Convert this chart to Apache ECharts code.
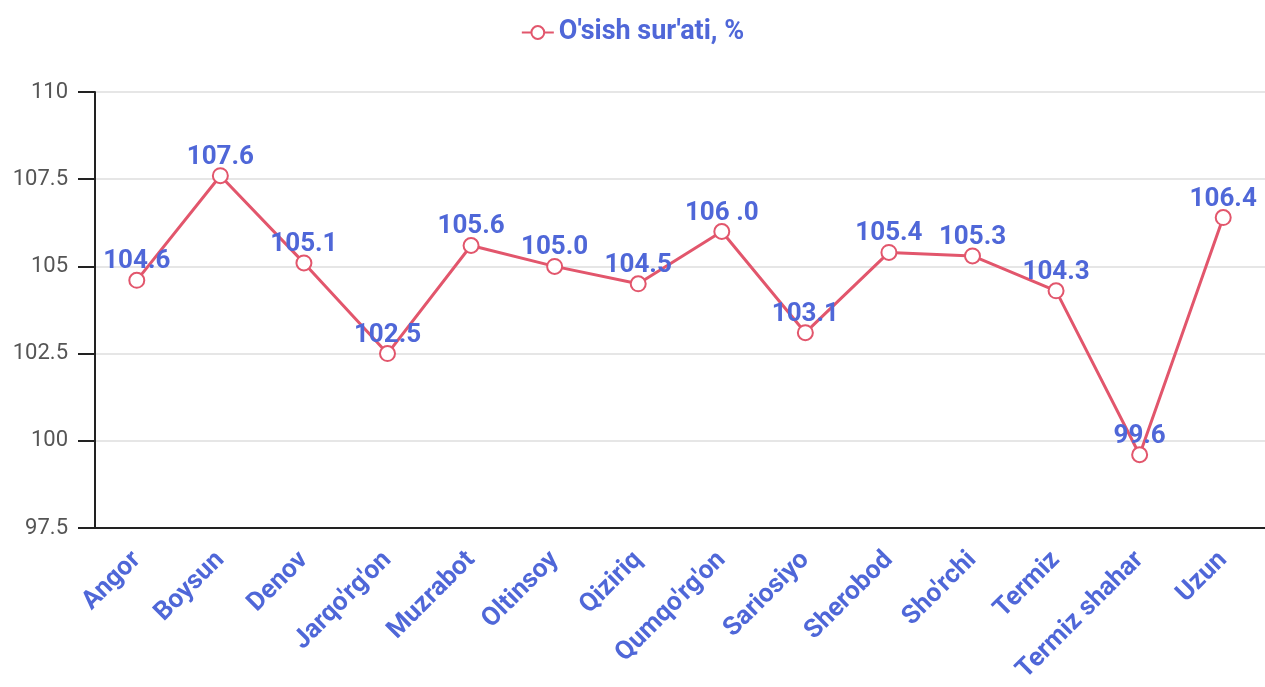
<!DOCTYPE html>
<html>
<head>
<meta charset="utf-8">
<script src="https://cdn.jsdelivr.net/npm/echarts@6/dist/echarts.min.js"></script>
<style>
  html, body { margin: 0; padding: 0; background: #fff; }
  #chart { width: 1265px; height: 687px; }
</style>
</head>
<body>
<div id="chart"></div>
<script>
    // tumanlar
    var categories = ['Angor', 'Boysun', 'Denov', "Jarqo'rg'on", 'Muzrabot', 'Oltinsoy', 'Qiziriq',
        "Qumqo'rg'on", 'Sariosiyo', 'Sherobod', "Sho'rchi", 'Termiz', 'Termiz shahar', 'Uzun'];
    var growthValues = [104.6, 107.6, 105.1, 102.5, 105.6, 105.0, 104.5, 106.0, 103.1, 105.4, 105.3, 104.3, 99.6, 106.4];
    var growthLabels = ['104.6', '107.6', '105.1', '102.5', '105.6', '105.0', '104.5', '106 .0', '103.1', '105.4', '105.3', '104.3', '99.6', '106.4'];
    var yTicks = [97.5, 100, 102.5, 105, 107.5, 110];

    var blue = '#4f67d8';
    var red = '#e2566c';
    var font = 'Roboto';

    var chart = echarts.init(document.getElementById('chart'));
    chart.setOption({
        animation: false,
        legend: {
            top: 14,
            left: 'center',
            itemWidth: 32,
            itemHeight: 16,
            itemGap: 10,
            textStyle: { color: blue, fontSize: 27, fontWeight: 'bold', fontFamily: font },
            data: ["O'sish sur'ati, %"]
        },
        grid: { left: 95, top: 92, width: 1174, height: 436 },
        xAxis: {
            type: 'category',
            data: categories,
            axisLine: { lineStyle: { color: '#222', width: 2 } },
            axisTick: { alignWithLabel: true, length: 17, lineStyle: { color: '#222', width: 2 } },
            axisLabel: {
                rotate: 45,
                interval: 0,
                margin: 28,
                color: blue,
                fontSize: 26,
                fontWeight: 'bold',
                fontFamily: font
            }
        },
        yAxis: {
            type: 'value',
            min: yTicks[0],
            max: yTicks[yTicks.length - 1],
            interval: 2.5,
            axisLine: { show: true, lineStyle: { color: '#222', width: 2 } },
            axisTick: { show: true, length: 17, lineStyle: { color: '#222', width: 2 } },
            axisLabel: { color: '#555', fontSize: 22, fontFamily: font, margin: 27 },
            splitLine: { lineStyle: { color: '#e6e6e6', width: 2 } }
        },
        series: [{
            name: "O'sish sur'ati, %",
            type: 'line',
            data: growthValues,
            symbol: 'emptyCircle',
            symbolSize: 15,
            itemStyle: { color: red, borderWidth: 3 },
            lineStyle: { color: red, width: 3 },
            label: {
                show: true,
                position: 'top',
                distance: -3,
                color: blue,
                fontSize: 26,
                fontWeight: 'bold',
                fontFamily: font,
                formatter: function (p) { return growthLabels[p.dataIndex]; }
            }
        }]
    });
</script>
</body>
</html>
